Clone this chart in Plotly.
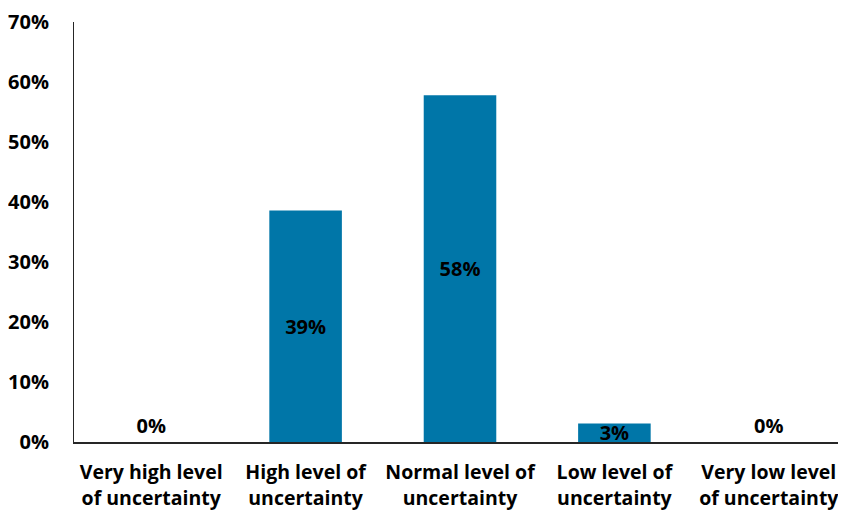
import plotly.graph_objects as go

categories = ["Very high level<br>of uncertainty", "High level of<br>uncertainty",
              "Normal level of<br>uncertainty", "Low level of<br>uncertainty",
              "Very low level<br>of uncertainty"]
values = [0.0, 38.6, 57.8, 3.1, 0.0]
labels = ["0%", "39%", "58%", "3%", "0%"]
tick_vals = [0, 10, 20, 30, 40, 50, 60, 70]
tick_text = ["0%", "10%", "20%", "30%", "40%", "50%", "60%", "70%"]

FONT = "Open Sans"
positions = ["outside" if v == 0 else "inside" for v in values]

fig = go.Figure(go.Bar(
    x=categories, y=values, text=labels,
    textposition=positions, insidetextanchor="middle",
    constraintext="none", cliponaxis=False,
    textfont=dict(family=FONT, size=20, color="black", weight="bold"),
    marker=dict(color="#0076A8", line=dict(width=0)),
    hoverinfo="skip",
))

fig.update_layout(
    width=838, height=506,
    margin=dict(l=63, r=0, t=14, b=72),
    plot_bgcolor="white", paper_bgcolor="white",
    bargap=0.53, showlegend=False,
    font=dict(family=FONT, color="black"),
)
fig.update_xaxes(
    range=[-0.5, 4.5], showline=True, linecolor="#262626", linewidth=1.5,
    showgrid=False, ticks="", ticklabelstandoff=12, automargin=False,
    tickfont=dict(family=FONT, size=19.5, color="black", weight="bold"),
)
fig.update_yaxes(
    range=[0, 70], tickvals=tick_vals, ticktext=tick_text,
    showline=True, linecolor="#262626", linewidth=1, showgrid=False, zeroline=False,
    ticks="", ticklabelstandoff=20,
    tickfont=dict(family=FONT, size=20, color="black", weight="bold"),
)

fig.write_html("out.html")
